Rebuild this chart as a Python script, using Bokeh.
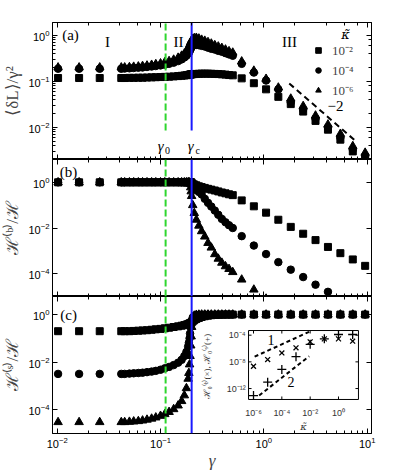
import numpy as np
from bokeh.plotting import figure
from bokeh.layouts import column
from bokeh.models import (LogAxis, LogScale, Range1d, Span, Legend, LegendItem,
                          FixedTicker, CustomJSTickFormatter, Spacer)
from bokeh.core.properties import value
from bokeh.embed import file_html
from bokeh.resources import INLINE

# ---------------- data ----------------
gamma = [0.0102, 0.0163, 0.0258, 0.0417,
         0.045, 0.050, 0.055, 0.061, 0.067, 0.074, 0.082, 0.090, 0.100,
         0.110, 0.121, 0.134, 0.148, 0.160, 0.170, 0.178, 0.185, 0.188, 0.191, 0.193, 0.196, 0.198, 0.200,
         0.205, 0.212, 0.222, 0.235, 0.250, 0.268, 0.288, 0.310, 0.335, 0.362, 0.392, 0.425, 0.460, 0.500,
         0.61, 0.80, 1.05, 1.38, 1.82, 2.40, 3.16, 4.17, 5.50, 7.25, 9.55]

# panel (a): <dL>/gamma^2
a_sq = [0.118, 0.118, 0.118, 0.118,
        0.118, 0.119, 0.119, 0.120, 0.120, 0.121, 0.122, 0.123, 0.124,
        0.125, 0.126, 0.128, 0.130, 0.132, 0.134, 0.136, 0.137, 0.138, 0.139, 0.140, 0.141, 0.142, 0.143,
        0.143, 0.144, 0.145, 0.146, 0.147, 0.147, 0.147, 0.146, 0.145, 0.144, 0.142, 0.140, 0.137, 0.135,
        0.116, 0.091, 0.067, 0.046, 0.032, 0.022, 0.0138, 0.0089, 0.0054, 0.0030, 0.0021]
a_ci = [0.188, 0.188, 0.188, 0.188,
        0.190, 0.192, 0.195, 0.198, 0.200, 0.205, 0.210, 0.215, 0.222,
        0.230, 0.240, 0.255, 0.275, 0.300, 0.330, 0.360, 0.400, 0.420, 0.450, 0.480, 0.520, 0.540, 0.560,
        0.600, 0.620, 0.620, 0.610, 0.590, 0.570, 0.540, 0.510, 0.490, 0.460, 0.440, 0.410, 0.385, 0.360,
        0.240, 0.155, 0.104, 0.067, 0.035, 0.0245, 0.0155, 0.0100, 0.0060, 0.0033, 0.0024]
a_tr = [0.200, 0.200, 0.200, 0.200,
        0.200, 0.203, 0.207, 0.210, 0.215, 0.220, 0.228, 0.236, 0.245,
        0.260, 0.275, 0.295, 0.325, 0.360, 0.400, 0.450, 0.520, 0.560, 0.610, 0.650, 0.700, 0.740, 0.780,
        0.830, 0.870, 0.880, 0.850, 0.800, 0.760, 0.710, 0.660, 0.610, 0.570, 0.530, 0.490, 0.450, 0.420,
        0.270, 0.170, 0.113, 0.073, 0.042, 0.029, 0.018, 0.0115, 0.0072, 0.0039, 0.0028]

# panel (b): H^(b)/H
b_sq = [1.0, 1.0, 1.0, 1.0,
        1.0, 1.0, 1.0, 1.0, 1.0, 1.0, 1.0, 1.0, 1.0,
        1.0, 1.0, 1.0, 1.0, 1.0, 1.0, 1.0, 1.0, 1.0, 1.0, 1.0, 1.0, 1.0, 0.95,
        0.85, 0.80, 0.74, 0.67, 0.62, 0.57, 0.52, 0.48, 0.44, 0.40, 0.36, 0.33, 0.30, 0.275,
        0.162, 0.089, 0.047, 0.023, 0.0112, 0.0056, 0.00295, 0.00148, 0.00079, 0.00042, 0.00022]
b_ci = [1.0, 1.0, 1.0, 1.0,
        1.0, 1.0, 1.0, 1.0, 1.0, 1.0, 1.0, 1.0, 1.0,
        1.0, 1.0, 1.0, 1.0, 1.0, 1.0, 1.0, 1.0, 1.0, 1.0, 1.0, 1.0, 1.0, 0.93,
        0.79, 0.63, 0.50, 0.38, 0.295, 0.19, 0.126, 0.087, 0.058, 0.038, 0.025, 0.0178, 0.0132, 0.010,
        0.0044, 0.0017, 0.00072, 0.00032, 0.00015, 7.1e-5, 3.3e-5, 1.6e-5, 7e-6, 3e-6, 1.3e-6]
b_tr = [1.0, 1.0, 1.0, 1.0,
        1.0, 1.0, 1.0, 1.0, 1.0, 1.0, 1.0, 1.0, 1.0,
        1.0, 1.0, 1.0, 1.0, 1.0, 1.0, 1.0, 1.0, 1.0, 0.98, 0.90, 0.60, 0.40, 0.25,
        0.10, 0.045, 0.023, 0.0126, 0.0072, 0.0042, 0.0022, 0.00138, 7.1e-4, 4.5e-4, 3.0e-4, 2.1e-4, 1.6e-4, 1.17e-4,
        5.5e-5, 2.0e-5, 8e-6, 3e-6, 1.2e-6, 5e-7, 2e-7, 8e-8, 3e-8, 1e-8, 5e-9]

# panel (c): H^(s)/H
c_sq = [0.20, 0.20, 0.20, 0.20,
        0.20, 0.20, 0.205, 0.21, 0.215, 0.22, 0.23, 0.24, 0.25,
        0.265, 0.28, 0.30, 0.32, 0.34, 0.36, 0.38, 0.40, 0.41, 0.42, 0.43, 0.44, 0.455, 0.47,
        0.52, 0.58, 0.65, 0.72, 0.79, 0.85, 0.90, 0.94, 0.96, 0.98, 0.99, 1.0, 1.0, 1.0,
        1.0, 1.0, 1.0, 1.0, 1.0, 1.0, 1.0, 1.0, 1.0, 1.0, 1.0]
c_ci = [0.0032, 0.0032, 0.0032, 0.0032,
        0.0032, 0.0033, 0.0034, 0.0035, 0.0036, 0.0038, 0.0040, 0.0043, 0.0048,
        0.0055, 0.0063, 0.0075, 0.0095, 0.0125, 0.018, 0.027, 0.045, 0.065, 0.10, 0.16, 0.30, 0.42, 0.55,
        0.75, 0.88, 0.95, 0.98, 0.99, 1.0, 1.0, 1.0, 1.0, 1.0, 1.0, 1.0, 1.0, 1.0,
        1.0, 1.0, 1.0, 1.0, 1.0, 1.0, 1.0, 1.0, 1.0, 1.0, 1.0]
c_tr = [3.0e-5, 3.0e-5, 3.0e-5, 3.0e-5,
        3.0e-5, 3.1e-5, 3.2e-5, 3.3e-5, 3.5e-5, 3.8e-5, 4.2e-5, 4.7e-5, 5.5e-5,
        6.5e-5, 8.0e-5, 1.05e-4, 1.5e-4, 2.3e-4, 4.0e-4, 8.0e-4, 2.0e-3, 3.5e-3, 8.0e-3, 0.018, 0.05, 0.12, 0.30,
        0.70, 0.90, 0.97, 0.99, 1.0, 1.0, 1.0, 1.0, 1.0, 1.0, 1.0, 1.0, 1.0, 1.0,
        1.0, 1.0, 1.0, 1.0, 1.0, 1.0, 1.0, 1.0, 1.0, 1.0, 1.0]

legend_labels = ["10⁻²", "10⁻⁴", "10⁻⁶"]
gamma0 = 0.112
gammac = 0.200
slope_line_x = [1.76, 7.75]
slope_line_y = [0.090, 0.0050]

# inset: H0^(b) (x) and H0^(s) (+) versus kappa
kappa = [1e-6, 1e-5, 1e-4, 1e-3, 1e-2, 1e-1, 1.0, 10.0]
h0_b = [2.2e-9, 2.2e-8, 2.2e-7, 1.26e-6, 1.0e-5, 2.8e-5, 2.8e-5, 1.26e-5]
h0_s = [8.9e-14, 9.1e-12, 7.4e-10, 5.9e-8, 4.2e-6, 2.8e-5, 1.26e-4, 1.26e-4]
ins_line1_x = [1.2e-6, 8.5e-3]
ins_line1_y = [6.0e-8, 3.2e-4]
ins_line2_x = [2.5e-6, 8.5e-3]
ins_line2_y = [9.0e-14, 7.0e-8]
ins_xticks = [1e-6, 1e-4, 1e-2, 1.0]
ins_xlabels = ["10⁻⁶", "10⁻⁴", "10⁻²", "10⁰"]
ins_yticks = [1e-4, 1e-8, 1e-12]
ins_ylabels = ["10⁻⁴", "10⁻⁸", "10⁻¹²"]

# ---------------- styling helpers ----------------
GREEN = "#2ed62e"
BLUE = "#1a1aff"
SERIF = "Liberation Serif"
SANS = "Liberation Sans"

FW, FH = 319, 137
xr = Range1d(0.00901, 11.0)
EMPTY = CustomJSTickFormatter(code="return ''")


def style_axis(ax, labels=True):
    ax.major_tick_in = 5
    ax.major_tick_out = 0
    ax.minor_tick_in = 3
    ax.minor_tick_out = 0
    ax.axis_line_color = "black"
    ax.major_tick_line_color = "black"
    ax.minor_tick_line_color = "black"
    ax.major_label_text_font = SANS
    ax.major_label_text_font_size = "11px"
    ax.major_label_text_color = "black"
    ax.major_label_standoff = 3
    if not labels:
        ax.formatter = EMPTY
        ax.major_label_standoff = 0


def base_fig(top, bottom, yrange):
    p = figure(frame_width=FW, frame_height=FH, x_axis_type="log", y_axis_type="log",
               x_range=xr, y_range=yrange,
               output_backend="svg", toolbar_location=None,
               min_border_left=44, min_border_right=12,
               min_border_top=top, min_border_bottom=bottom)
    p.grid.visible = False
    p.outline_line_color = "black"
    p.outline_line_width = 1
    p.add_layout(LogAxis(), "above")
    p.add_layout(LogAxis(), "right")
    for ax in p.left:
        style_axis(ax, True)
    for ax in p.above + p.right:
        style_axis(ax, False)
    return p


def scatter3(p, ys_sq, ys_ci, ys_tr):
    r1 = p.scatter(gamma, ys_sq, marker="square", size=7, color="black")
    r2 = p.scatter(gamma, ys_ci, marker="circle", size=7.5, color="black")
    r3 = p.scatter(gamma, ys_tr, marker="triangle", size=8.5, color="black")
    return r1, r2, r3


def ylab(p, text):
    ax = p.left[0]
    ax.axis_label = text
    ax.axis_label_text_font = SERIF
    ax.axis_label_text_font_size = "17px"
    ax.axis_label_text_font_style = "normal"
    ax.axis_label_standoff = 3


# ---------------- panel (a) ----------------
pa = base_fig(0, 0, Range1d(0.0020, 1.9))
for ax in pa.below:
    style_axis(ax, False)
ylab(pa, "⟨δL⟩/γ²")
ra = scatter3(pa, a_sq, a_ci, a_tr)
pa.line([gamma0, gamma0], [0.0085, 1.9], line_color=GREEN, line_width=2, line_dash="7 3")
pa.line([gammac, gammac], [0.0085, 1.9], line_color=BLUE, line_width=2)
pa.line(slope_line_x, slope_line_y, line_color="black", line_width=2, line_dash="6 4")
pa.text(x=[0.01345, 0.0307, 0.149, 1.77, 4.94], y=[1.0, 0.70, 0.70, 0.70, 0.0287],
        text=["(a)", "I", "II", "III", "−2"],
        text_font=value(SERIF), text_font_size="15px",
        text_align="center", text_baseline="middle", text_color="black")
pa.text(x=[gamma0, gammac], y=[0.0039, 0.0039], text=["γ", "γ"],
        x_offset=[-5, -1], text_font=value(SERIF), text_font_size="15px",
        text_font_style="italic", text_align="center", text_baseline="middle")
pa.text(x=[gamma0, gammac], y=[0.0039, 0.0039], text=["0", "c"],
        x_offset=[2, 6], y_offset=[4, 4], text_font=value(SERIF), text_font_size="10px",
        text_align="center", text_baseline="middle")
pa.text(x=[6.18], y=[1.05], text=["κ̃"], text_font=value("DejaVu Serif"), text_font_size="13px",
        text_font_style="italic", text_align="center", text_baseline="middle")
leg = Legend(items=[LegendItem(label=legend_labels[0], renderers=[ra[0]]),
                    LegendItem(label=legend_labels[1], renderers=[ra[1]]),
                    LegendItem(label=legend_labels[2], renderers=[ra[2]])],
             location=(255, 56), margin=0, padding=4, spacing=2,
             glyph_width=14, glyph_height=14, label_height=14,
             label_standoff=7, label_text_font=SERIF, label_text_font_size="13px",
             background_fill_alpha=0, border_line_alpha=0)
pa.add_layout(leg)

# ---------------- panel (b) ----------------
pb = base_fig(0, 0, Range1d(1e-5, 10.0))
for ax in pb.below:
    style_axis(ax, False)
ylab(pb, "ℋ⁽ᵇ⁾/ℋ")
for ax in pb.left + pb.right:
    ax.ticker = FixedTicker(ticks=[1e-4, 1e-2, 1.0], minor_ticks=[])
scatter3(pb, b_sq, b_ci, b_tr)
pb.add_layout(Span(location=gamma0, dimension="height", line_color=GREEN,
                   line_width=2, line_dash="7 3"))
pb.add_layout(Span(location=gammac, dimension="height", line_color=BLUE, line_width=2))
pb.text(x=[0.0129], y=[2.8], text=["(b)"], text_font=value(SERIF), text_font_size="15px",
        text_align="center", text_baseline="middle")

# ---------------- panel (c) ----------------
pc = base_fig(0, 10, Range1d(1e-5, 5.75))
for ax in pc.below:
    style_axis(ax, True)
    ax.axis_label = "γ"
    ax.axis_label_text_font = SERIF
    ax.axis_label_text_font_size = "17px"
    ax.axis_label_text_font_style = "italic"
    ax.axis_label_standoff = 0
ylab(pc, "ℋ⁽ˢ⁾/ℋ")
for ax in pc.left + pc.right:
    ax.ticker = FixedTicker(ticks=[1e-4, 1e-2, 1.0], minor_ticks=[])
scatter3(pc, c_sq, c_ci, c_tr)
pc.add_layout(Span(location=gamma0, dimension="height", line_color=GREEN,
                   line_width=2, line_dash="7 3"))
pc.add_layout(Span(location=gammac, dimension="height", line_color=BLUE, line_width=2))
pc.text(x=[0.0129], y=[1.0], text=["(c)"], text_font=value(SERIF), text_font_size="15px",
        text_align="center", text_baseline="middle")

# inset drawn with its own log scales inside panel (c)
pc.extra_x_ranges = {"ik": Range1d(10 ** -20.19, 10 ** 2.33)}
pc.extra_y_ranges = {"ih": Range1d(10 ** -18.74, 10 ** 1.80)}
pc.extra_x_scales = {"ik": LogScale()}
pc.extra_y_scales = {"ih": LogScale()}
IN = dict(x_range_name="ik", y_range_name="ih")
bx0, bx1 = 10 ** -6.35, 10 ** 1.41
by0, by1 = 10 ** -13.64, 10 ** -3.30
pc.quad(left=[bx0], right=[bx1], bottom=[by0], top=[by1], fill_color="white",
        line_color="black", line_width=1, **IN)
for xs, ys, ang in [(ins_xticks, [by0] * 4, np.pi / 2), (ins_xticks, [by1] * 4, -np.pi / 2)]:
    pc.ray(x=xs, y=ys, length=3, length_units="screen", angle=ang, line_color="black", **IN)
for xs, ys, ang in [([bx0] * 3, ins_yticks, 0.0), ([bx1] * 3, ins_yticks, np.pi)]:
    pc.ray(x=xs, y=ys, length=3, length_units="screen", angle=ang, line_color="black", **IN)
pc.line(ins_line1_x, ins_line1_y, line_color="black", line_width=2, line_dash="4 3", **IN)
pc.line(ins_line2_x, ins_line2_y, line_color="black", line_width=2, line_dash="4 3", **IN)
pc.scatter(kappa, h0_b, marker="x", size=7, line_color="black", line_width=1.3, **IN)
pc.scatter(kappa, h0_s, marker="cross", size=9, line_color="black", line_width=1.3, **IN)
pc.text(x=[10 ** -4.76, 10 ** -3.36], y=[10 ** -4.65, 10 ** -11.0], text=["1", "2"],
        text_font=value(SERIF), text_font_size="14px", text_align="center",
        text_baseline="middle", **IN)
pc.text(x=ins_xticks, y=[10 ** -15.6] * 4, text=ins_xlabels, text_font=value(SANS),
        text_font_size="9px", text_color="#333333", text_align="center",
        text_baseline="middle", **IN)
pc.text(x=[10 ** -6.55] * 3, y=ins_yticks, text=ins_ylabels, text_font=value(SANS),
        text_font_size="9px", text_color="#333333", text_align="right",
        text_baseline="middle", **IN)
pc.text(x=[10 ** -2.47], y=[10 ** -17.7], text=["κ̃"], text_font=value("DejaVu Serif"),
        text_font_size="10px", text_font_style="italic", text_color="#333333",
        text_align="center", text_baseline="middle", **IN)
pc.text(x=[10 ** -9.25], y=[10 ** -8.55], text=["ℋ₀⁽ᵇ⁾(×),  ℋ₀⁽ˢ⁾(+)"], angle=np.pi / 2,
        text_font=value(SERIF), text_font_size="9px", text_color="#333333",
        text_align="center", text_baseline="middle", **IN)

layout = column(Spacer(height=22, width=10), pa, pb, pc, spacing=0)
open("out.html", "w").write(file_html(layout, INLINE))
